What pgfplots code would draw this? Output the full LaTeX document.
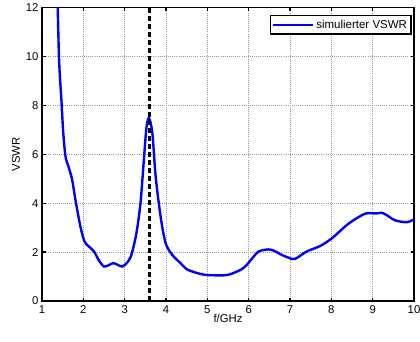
\documentclass[border=0pt]{standalone}
\usepackage{fontspec}
\setmainfont{Liberation Sans}
\usepackage{pgfplots}
\pgfplotsset{compat=1.18}
\begin{document}
\begin{tikzpicture}
\useasboundingbox (0,0) rectangle (420pt,341pt);
\begin{axis}[
  at={(42pt,40pt)}, anchor=south west,
  scale only axis, width=372pt, height=293.5pt,
  xmin=1, xmax=10, ymin=0, ymax=12,
  xtick={1,...,10}, ytick={0,2,...,12},
  tick align=inside, major tick length=3.5pt,
  tick style={black, line width=1.2pt},
  axis line style={line width=1.6pt},
  grid=major, grid style={dash pattern=on 0.8pt off 1.3pt, gray!80, line width=0.8pt},
  font=\fontsize{11.3}{13}\selectfont,
  /pgf/number format/assume math mode=true,
  xlabel={f/GHz}, ylabel={VSWR},
  xlabel style={yshift=6pt}, ylabel style={yshift=-1pt},
  xticklabel style={yshift=-1pt},
  legend style={at={(rel axis cs:0.994,0.976)}, anchor=north east, draw=black, line width=1.5pt, inner xsep=2pt, inner ysep=2.5pt, font=\fontsize{11.5}{13}\selectfont, cells={anchor=west}},
  legend image code/.code={\draw[blue, line width=2.2pt] (0pt,0pt) -- (1.4cm,0pt);},
  legend cell align=left,
]
\addplot[blue, line width=2.4pt, smooth, tension=0.5] coordinates {
(1.36,13.0) (1.38,12.0) (1.41,10.0) (1.44,9.0) (1.47,8.2) (1.515,6.86) (1.57,5.9) (1.65,5.45) (1.73,4.95) (1.81,4.13) (1.93,3.04) (2.03,2.43) (2.14,2.22) (2.26,2.02) (2.38,1.65) (2.50,1.41) (2.62,1.47) (2.73,1.55) (2.84,1.47) (2.94,1.41) (3.05,1.55) (3.15,1.82) (3.24,2.4) (3.31,3.04) (3.39,4.13) (3.47,5.9) (3.53,7.13) (3.59,7.47) (3.67,6.86) (3.75,5.09) (3.87,3.45) (3.99,2.37) (4.15,1.89) (4.35,1.55) (4.5,1.3) (4.7,1.17) (4.85,1.1) (5.0,1.06) (5.2,1.05) (5.39,1.05) (5.55,1.09) (5.71,1.2) (5.83,1.3) (5.95,1.47) (6.19,1.95) (6.3,2.06) (6.48,2.11) (6.62,2.05) (6.76,1.92) (6.95,1.78) (7.12,1.72) (7.4,2.02) (7.73,2.25) (8.01,2.56) (8.37,3.1) (8.61,3.38) (8.84,3.58) (9.1,3.58) (9.22,3.61) (9.35,3.5) (9.54,3.3) (9.82,3.22) (10.0,3.34)
};
\addlegendentry{simulierter VSWR}
\addplot[black, line width=2.2pt, dash pattern=on 5.5pt off 2.5pt, forget plot] coordinates {(3.6,0) (3.6,12)};
\end{axis}
\end{tikzpicture}
\end{document}
